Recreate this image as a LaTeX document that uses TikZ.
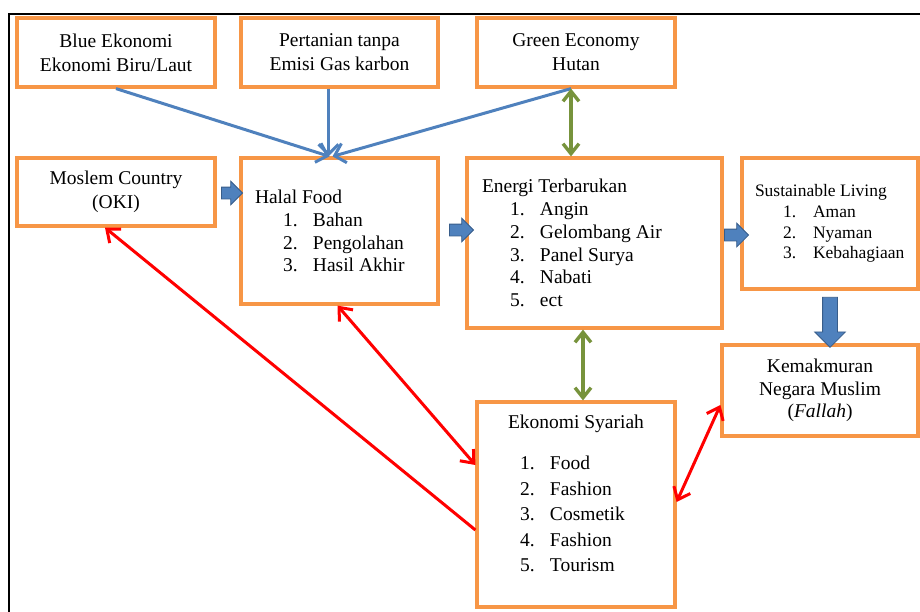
\documentclass[tikz,border=0pt]{standalone}
\usepackage{fontspec}
\setmainfont{Liberation Serif}
\usetikzlibrary{arrows.meta,calc,shapes.arrows}
\definecolor{boxorange}{HTML}{F79646}
\definecolor{flowblue}{HTML}{4F81BD}
\definecolor{flowblueline}{HTML}{385D8A}
\definecolor{linkgreen}{HTML}{77933C}
\definecolor{linkred}{HTML}{FF0000}
\newcommand{\litem}[2]{\hspace*{28pt}\makebox[30pt][l]{#1}#2}

\begin{document}
\begin{tikzpicture}[x=1pt,y=-1pt,
    box/.style={draw=boxorange,line width=3.2pt,inner sep=0pt,align=center,
      font=\fontsize{19.5}{24}\selectfont},
    listbox/.style={draw=boxorange,line width=3.2pt,inner sep=0pt,align=flush left,
      font=\fontsize{19.5}{22.8}\selectfont},
    blk/.style={single arrow,draw=flowblueline,fill=flowblue,line width=0.8pt,inner xsep=0pt,
      inner ysep=5.5pt,single arrow head extend=6pt},
    bluearr/.style={-{Straight Barb[length=10pt,width=20pt]},flowblue,line width=3pt},
    greenarr/.style={{Straight Barb[length=10pt,width=16pt]}-{Straight Barb[length=10pt,width=16pt]},
      linkgreen,line width=3.4pt},
    redarr/.style={-{Straight Barb[length=11pt,width=18pt]},linkred,line width=3pt},
    redboth/.style={{Straight Barb[length=11pt,width=18pt]}-{Straight Barb[length=11pt,width=18pt]},
      linkred,line width=3pt}]
  \useasboundingbox (0,0) rectangle (920,611);
  \draw[line width=2.2pt] (9,640) -- (9,14) -- (940,14);

  % top row
  \node[box,minimum width=198pt,minimum height=69pt] (blueeko) at (116,52.5) {Blue Ekonomi\\Ekonomi Biru/Laut};
  \node[box,minimum width=197pt,minimum height=69pt] (tanpa) at (339.5,52.5) {Pertanian tanpa\\Emisi Gas karbon};
  \node[box,minimum width=198pt,minimum height=69pt] (green) at (576,52.5) {Green Economy\\Hutan};

  % middle row
  \node[box,minimum width=198pt,minimum height=68pt] (moslem) at (116,192) {Moslem Country\\(OKI)};
  \node[listbox,text width=169pt,minimum width=197pt,minimum height=146pt] (halal) at (339.5,231)
    {Halal Food\\\litem{1.}{Bahan}\\\litem{2.}{Pengolahan}\\\litem{3.}{Hasil Akhir}};
  \node[listbox,text width=225pt,minimum width=255pt,minimum height=170pt] (energi) at (594.5,243)
    {Energi Terbarukan\\\litem{1.}{Angin}\\\litem{2.}{Gelombang Air}\\\litem{3.}{Panel Surya}\\
     \litem{4.}{Nabati}\\\litem{5.}{ect}};
  \node[listbox,font=\fontsize{17.5}{20.7}\selectfont,text width=150pt,minimum width=176pt,
    minimum height=131pt] (living) at (830,223.5)
    {Sustainable Living\\\litem{1.}{Aman}\\\litem{2.}{Nyaman}\\\litem{3.}{Kebahagiaan}};

  % bottom row
  \node[box,font=\fontsize{19.5}{22.5}\selectfont,minimum width=196pt,minimum height=91pt] (makmur)
    at (820,390.5) {Kemakmuran\\Negara Muslim\\(\textit{Fallah})};
  \node[listbox,font=\fontsize{19.5}{25.5}\selectfont,text width=112pt,minimum width=198pt,
    minimum height=205pt] (syariah) at (576,504.5)
    {\makebox[\linewidth]{Ekonomi Syariah}\\[15.5pt]
     \makebox[30pt][l]{1.}Food\\\makebox[30pt][l]{2.}Fashion\\\makebox[30pt][l]{3.}Cosmetik\\
     \makebox[30pt][l]{4.}Fashion\\\makebox[30pt][l]{5.}Tourism\\[-3pt]\mbox{}};

  % block arrows
  \node[blk,minimum height=21pt] (toHalal) at ($(moslem.east)+(12.5,1)$) {};
  \node[blk,minimum height=24pt] (toEnergi) at ($(halal.east)+(19,-1)$) {};
  \node[blk,minimum height=24pt] (toLiving) at ($(energi.east)+(10,-8)$) {};
  \node[blk,rotate=-90,minimum height=50pt,inner ysep=7pt,single arrow head extend=8pt]
    (toMakmur) at ($(living.south)+(0,28)$) {};

  % connectors
  \draw[bluearr] (blueeko.south) -- ([xshift=-10pt]halal.north);
  \draw[bluearr] ([xshift=-11pt]tanpa.south) -- ([xshift=-11pt]halal.north);
  \draw[bluearr] ([xshift=-5pt]green.south) -- ([xshift=-7pt]halal.north);
  \draw[greenarr] ([xshift=-5pt]green.south) -- ([xshift=-5pt]green.south |- energi.north);
  \draw[greenarr] ([xshift=7pt]syariah.north |- energi.south) -- ([xshift=7pt]syariah.north);
  \draw[redarr] ([yshift=-25.5pt]syariah.west) -- ([xshift=-11pt]moslem.south);
  \draw[redboth] ([xshift=-2pt]halal.south) -- ([yshift=39.5pt]syariah.west);
  \draw[redboth] ([yshift=2.5pt]syariah.east) -- ([yshift=-14.5pt]makmur.west);
\end{tikzpicture}
\end{document}
